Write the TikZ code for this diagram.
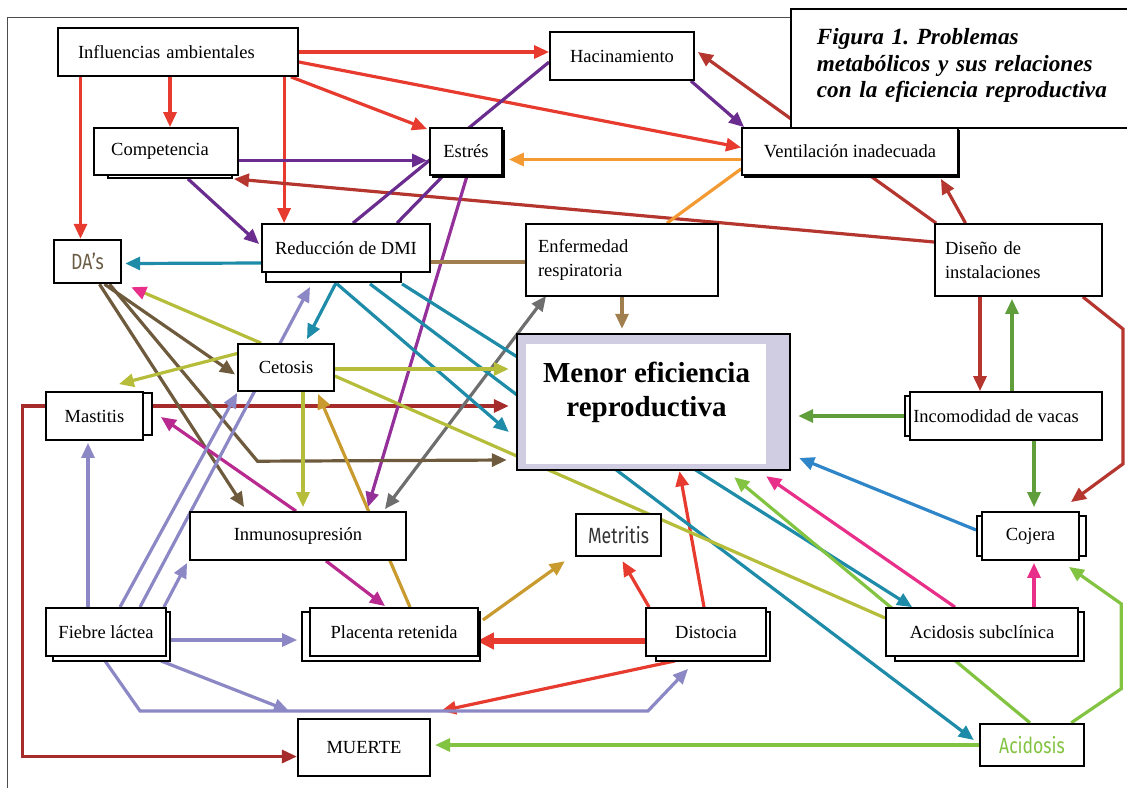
\documentclass[tikz,border=0pt]{standalone}
\usepackage{fontspec}
\setmainfont{Liberation Serif}
\newfontfamily\condsans[FakeStretch=0.8]{Fira Sans}
\usetikzlibrary{arrows.meta,backgrounds}

\definecolor{ired}{HTML}{E63B2E}
\definecolor{ibrick}{HTML}{B5352F}
\definecolor{idred}{HTML}{A52C2A}
\definecolor{ipurple}{HTML}{6A2C8E}
\definecolor{iviolet}{HTML}{93309A}
\definecolor{iorange}{HTML}{F39A33}
\definecolor{itan}{HTML}{A07E4E}
\definecolor{iteal}{HTML}{1E8CA8}
\definecolor{iolive}{HTML}{B5BD3A}
\definecolor{igold}{HTML}{C99A2E}
\definecolor{imag}{HTML}{B82A8F}
\definecolor{ipink}{HTML}{E8308A}
\definecolor{ilgreen}{HTML}{82C341}
\definecolor{idgreen}{HTML}{5F9E3A}
\definecolor{iblue}{HTML}{2E86C9}
\definecolor{igray}{HTML}{6E6E6E}
\definecolor{idbrown}{HTML}{6E5A3C}
\definecolor{ilav}{HTML}{8C87C5}
\definecolor{lavfill}{HTML}{D0CDE3}
\definecolor{dastext}{HTML}{6B5C45}

\begin{document}
\begin{tikzpicture}[x=1pt, y=-1pt,
    box/.style={draw, line width=1.8pt, fill=white, inner sep=2pt,
      font=\fontsize{18.5}{23}\selectfont},
    ghost/.style={draw, line width=1.8pt, fill=white},
    conn/.style={line width=3.2pt},
    arr/.style={conn, -{Triangle[length=15pt,width=13pt]}},
    darr/.style={conn, {Triangle[length=15pt,width=13pt]}-{Triangle[length=15pt,width=13pt]}},
    sans/.style={font=\condsans\fontsize{22}{24}\selectfont}]

    \useasboundingbox (0,0) rectangle (1127,788);

    % stacked copies behind some boxes
    \draw[ghost] (108,140) rectangle (232,178);
    \draw[ghost] (433,131) rectangle (504,177);
    \draw[ghost] (745,131) rectangle (959,177);
    \draw[ghost] (266,262) rectangle (401,282);
    \draw[ghost] (135,393) rectangle (152,435);
    \draw[ghost] (905,396) rectangle (915,436);
    \draw[ghost] (977,516) rectangle (1086,556);
    \draw[ghost] (53,612) rectangle (170,661);
    \draw[ghost] (302,612) rectangle (480,661);
    \draw[ghost] (656,612) rectangle (770,661);
    \draw[ghost] (895,612) rectangle (1084,661);

    % boxes
    \node[box, minimum width=240pt, minimum height=48pt, text width=200pt, align=left,
          inner xsep=20pt] (amb) at (178,52) {Influencias ambientales};
    \node[box, minimum width=144pt, minimum height=47pt] (comp) at (166,151.5) {Competencia\hspace*{12pt}};
    \node[box, minimum width=72pt, minimum height=47pt] (estres) at (466,151.5) {Estrés};
    \node[box, minimum width=144pt, minimum height=48pt] (hac) at (622,56) {Hacinamiento};
    \node[box, minimum width=216pt, minimum height=47pt] (vent) at (850,151.5) {Ventilación inadecuada};
    \node[box, anchor=north west, minimum width=335pt, minimum height=119pt,
          text width=300pt, align=left, inner xsep=26pt,
          font=\fontsize{23.2}{26.5}\selectfont\bfseries\itshape] (title) at (790,8)
          {Figura 1.\ Problemas\\metabólicos y sus relaciones\\con la eficiencia reproductiva\\[-16pt]\mbox{}};
    \node[box, line width=2.4pt, minimum width=67pt, minimum height=43pt, sans, text=dastext] (das) at (87.5,261.5) {DA’s};
    \node[box, minimum width=168pt, minimum height=48pt] (red) at (346,248) {Reducción de DMI};
    \node[box, minimum width=192pt, minimum height=72pt, text width=168pt, align=left,
          font=\fontsize{18.5}{24}\selectfont] (enf) at (622,260) {Enfermedad\\ respiratoria};
    \node[box, minimum width=167pt, minimum height=72pt, text width=147pt, align=left,
          font=\fontsize{18.5}{24}\selectfont] (dis) at (1018.5,260) {Diseño de\\instalaciones};
    \node[box, minimum width=96pt, minimum height=47pt] (cet) at (286,367.5) {Cetosis};
    \node[box, minimum width=97pt, minimum height=48pt] (mas) at (94.5,416) {Mastitis};
    \node[box, line width=2.4pt, fill=lavfill, minimum width=273pt, minimum height=136pt,
          align=center, font=\fontsize{29}{34}\selectfont\bfseries,
          path picture={\fill[white] ([shift={(9,10)}]path picture bounding box.north west)
            rectangle ([shift={(-24,-6)}]path picture bounding box.south east);}]
          (menor) at (653.5,402)
          {\makebox[250pt]{Menor eficiencia\hspace{14pt}}\\\makebox[250pt]{reproductiva\hspace{14pt}}\\[-8pt]\mbox{}};
    \node[box, minimum width=192pt, minimum height=48pt] (inc) at (1006,416) {Incomodidad de vacas\hspace*{20pt}};
    \node[box, minimum width=97pt, minimum height=48pt] (coj) at (1030.5,536) {Cojera};
    \node[box, minimum width=216pt, minimum height=48pt] (inm) at (298,536) {Inmunosupresión};
    \node[box, line width=2.4pt, minimum width=85pt, minimum height=42pt, sans, text=black!80] (met) at (618.5,535) {Metritis};
    \node[box, minimum width=120pt, minimum height=48pt] (fie) at (106,632) {Fiebre láctea};
    \node[box, minimum width=168pt, minimum height=48pt] (pla) at (394,632) {Placenta retenida};
    \node[box, minimum width=120pt, minimum height=48pt] (dist) at (706,632) {Distocia};
    \node[box, minimum width=192pt, minimum height=48pt] (acs) at (982,632) {Acidosis subclínica};
    \node[box, line width=2.2pt, minimum width=132pt, minimum height=57pt] (muerte) at (364,747.5) {MUERTE};
    \node[box, line width=2.4pt, minimum width=104pt, minimum height=42pt, sans, text=ilgreen] (acid) at (1032,745) {Acidosis};

    \begin{pgfonlayer}{background}
    % frame
    \draw[black!70, line width=1pt] (7,788) -- (7,17) -- (title.west |- 0,17);

    % Influencias ambientales
    \draw[arr, ired] (amb.east) -- (amb.east -| hac.west);
    \draw[arr, ired] ([shift={(0,10)}]amb.east) -- ([shift={(0,-4)}]vent.west);
    \draw[arr, ired] ([shift={(-8,0)}]amb.south east) -- ([shift={(-2,2)}]estres.north west);
    \draw[arr, ired] ([xshift=4]comp.north |- amb.south) -- ([xshift=4]comp.north);
    \draw[arr, ired] ([xshift=-7]das.north |- amb.south) -- ([xshift=-7]das.north);
    \draw[arr, ired] ([xshift=23]red.north west |- amb.south) -- ([xshift=23]red.north west);

    % Distocia
    \draw[conn, ired, line width=5.5pt, -{Triangle[length=17pt,width=16pt]}]
        ([shift={(0,9)}]dist.west) -- ([shift={(-2,9)}]pla.east);
    \draw[arr, ired] ([xshift=4]dist.north west) -- ([shift={(4,4)}]met.south);
    \draw[arr, ired] ([xshift=-2]dist.north) -- ([xshift=26]menor.south);
    \draw[arr, ired] ([shift={(-31,4)}]dist.south) -- ([shift={(10,-7)}]muerte.north east);

    % Diseño de instalaciones
    \draw[arr, ibrick] ([shift={(0,-18)}]dis.west) -- ([shift={(-5,3)}]comp.south east);
    \draw[arr, ibrick] ([xshift=-53]dis.north) -- ([shift={(-18,3)}]vent.south east);
    \draw[arr, ibrick] ([xshift=2]dis.north west) -- ([shift={(3,-4)}]hac.east);
    \draw[arr, ibrick] ([xshift=-38.5]dis.south) -- ([xshift=-38.5]dis.south |- inc.north);
    \draw[arr, ibrick] ([xshift=-20]dis.south east) -- ++(40,32) -- ++(0,135)
        -- ([shift={(-9,-9)}]coj.north east);

    % Mastitis
    \draw[arr, idred] ([shift={(0,-10)}]mas.east) -- ([shift={(-7,-10)}]mas.east -| menor.west);
    \draw[arr, idred] ([shift={(0,-10)}]mas.west) -- ++(-23,0) |- ([shift={(0,9)}]muerte.west);

    % Competencia, Hacinamiento, Estrés
    \draw[arr, ipurple] ([shift={(0,9)}]comp.east) -- ([shift={(-2,9)}]estres.west);
    \draw[arr, ipurple] ([shift={(22,3)}]comp.south) -- ([shift={(-2,-4)}]red.west);
    \draw[arr, ipurple] ([xshift=-4]hac.south east) -- ([xshift=3]vent.north west);
    \draw[conn, ipurple] ([shift={(0,6)}]hac.west) -- ([xshift=7]red.north);
    \draw[conn, ipurple] ([xshift=-23]estres.south) -- ([xshift=51]red.north);
    \draw[arr, iviolet] ([xshift=1]estres.south) -- ([shift={(-39,-4)}]inm.north east);

    % Ventilación inadecuada
    \draw[arr, iorange] ([shift={(0,8)}]vent.west) -- ([shift={(6,8)}]estres.east);
    \draw[conn, iorange] ([shift={(0,-7)}]vent.south west) -- ([xshift=45]enf.north);

    % Enfermedad respiratoria
    \draw[conn, itan] ([shift={(0,2)}]enf.west) -- ([shift={(0,14)}]red.east);
    \draw[arr, itan] (enf.south) -- ([shift={(0,-4)}]enf.south |- menor.north);
    \draw[darr, igray] ([shift={(-22,-2)}]inm.north east) -- ([shift={(21,-1)}]enf.south west);

    % Reducción de DMI
    \draw[arr, iteal] ([shift={(0,15)}]red.west) -- ([shift={(3,2)}]das.east);
    \draw[arr, iteal] ([shift={(-10,10)}]red.south) -- ([shift={(21,-4)}]cet.north);
    \draw[arr, iteal] ([shift={(-9,11)}]red.south) -- ([shift={(-7,30)}]menor.west);
    \draw[arr, iteal] ([shift={(24,11)}]red.south) -- ([shift={(-5,-5)}]acid.west);
    \draw[arr, iteal] ([shift={(56,11)}]red.south) -- ([xshift=27]acs.north west);

    % DA's
    \draw[arr, idbrown] ([xshift=17]das.south) -- ([shift={(-2,7)}]cet.west);
    \draw[arr, idbrown] ([xshift=12]das.south) -- ([shift={(55,-4)}]inm.north west);
    \draw[arr, idbrown] ([xshift=22]das.south) -- ++(148,177) -- ([shift={(-9,58)}]menor.west);

    % Cetosis
    \draw[conn, iolive, -{Triangle[length=15pt,width=13pt,fill=ipink,color=ipink]}]
        ([xshift=24]cet.north west) -- ([shift={(9,3)}]das.south east);
    \draw[arr, iolive] ([shift={(0,-14)}]cet.west) -- ([shift={(-25,-7)}]mas.north east);
    \draw[arr, iolive] ([shift={(0,1.5)}]cet.east) -- ([shift={(-7,-33)}]menor.west);
    \draw[arr, iolive] ([xshift=17]cet.south) -- ([shift={(17,-4)}]cet.south |- inm.north);
    \draw[conn, iolive] ([shift={(0,8.5)}]cet.east) -- ([shift={(0,-14)}]acs.west);

    % Placenta retenida, Inmunosupresión
    \draw[arr, igold] ([xshift=16]pla.north) -- ([shift={(32,2)}]cet.south);
    \draw[arr, igold] ([shift={(4,-12)}]pla.east) -- ([shift={(-10,4)}]met.south west);
    \draw[arr, imag] ([xshift=-2]inm.north) -- ([shift={(17,1)}]mas.east);
    \draw[arr, imag] ([xshift=28]inm.south) -- ([shift={(-9,-1)}]pla.north);

    % Fiebre láctea
    \draw[arr, ilav] ([xshift=-18]fie.north) -- ([shift={(-18,2)}]fie.north |- mas.south);
    \draw[arr, ilav] ([xshift=14]fie.north) -- ([shift={(0,1)}]cet.south west);
    \draw[arr, ilav] ([xshift=34]fie.north) -- ([shift={(-36,14)}]red.south);
    \draw[arr, ilav] ([xshift=-3]fie.north east) -- ([shift={(-2,2)}]inm.south west);
    \draw[arr, ilav] ([shift={(4,8)}]fie.east) -- ([shift={(-12,8)}]pla.west);
    \draw[arr, ilav] ([shift={(-6,4)}]fie.south east) -- ([shift={(-8,-7)}]muerte.north west);
    \draw[arr, ilav] ([shift={(-1,4)}]fie.south) -- ++(35,50) -- ++(508,0)
        -- ([shift={(-18,12)}]dist.south);

    % Incomodidad, Cojera
    \draw[arr, idgreen] (inc.west) -- ([xshift=7]inc.west -| menor.east);
    \draw[arr, idgreen] ([xshift=6]inc.north) -- ([shift={(6,2)}]inc.north |- dis.south);
    \draw[arr, idgreen] ([xshift=28]inc.south) -- ([shift={(28,-4)}]inc.south |- coj.north);
    \draw[arr, iblue] ([shift={(-5,-6)}]coj.west) -- ([shift={(8,56)}]menor.east);

    % Acidosis subclínica, Acidosis
    \draw[arr, ipink] ([xshift=-27]acs.north) -- ([shift={(-25,5)}]menor.south east);
    \draw[arr, ipink] ([xshift=52]acs.north) -- ([shift={(52,2)}]acs.north |- coj.south);
    \draw[arr, ilgreen] ([xshift=-2]acid.north) -- ([shift={(-57,6)}]menor.south east);
    \draw[arr, ilgreen] ([xshift=-14]acid.north east) -- ++(50,-34) -- ++(0,-85)
        -- ([shift={(-11,6)}]coj.south east);
    \draw[arr, ilgreen] (acid.west) -- ([xshift=4]acid.west -| muerte.east);
    \end{pgfonlayer}

\end{tikzpicture}
\end{document}
